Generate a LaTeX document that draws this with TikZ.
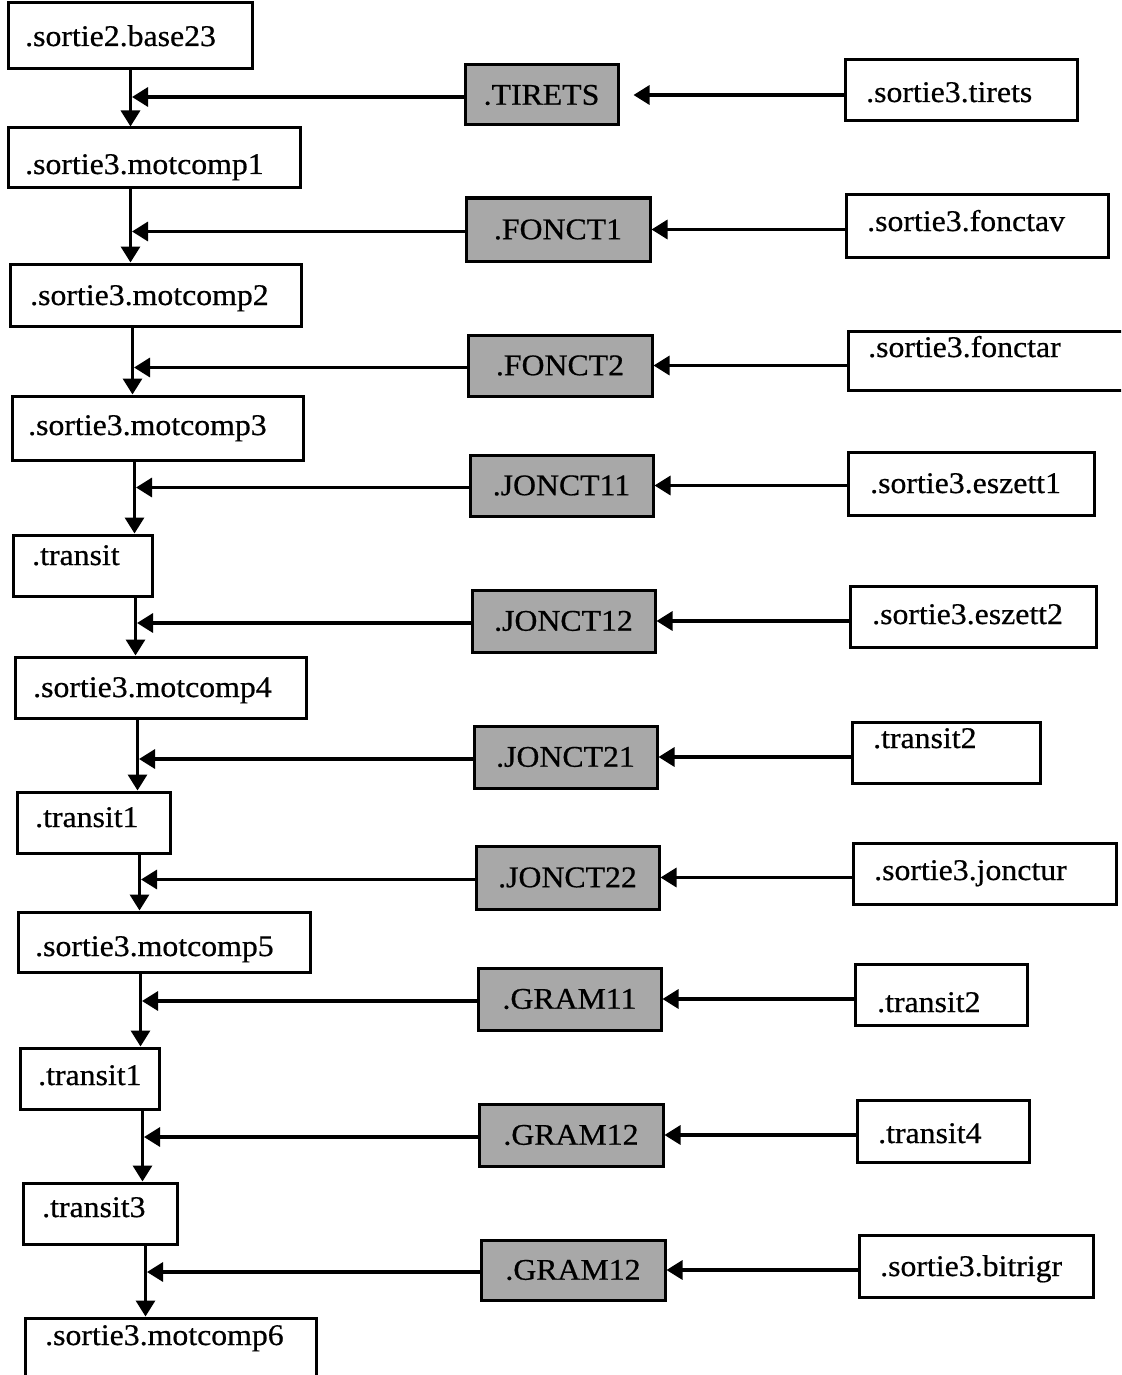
\documentclass[tikz,border=0pt]{standalone}
\usepackage{fontspec}
\setmainfont{Liberation Serif}[FakeStretch=1.06, FakeBold=0.6]
\usetikzlibrary{arrows.meta,calc}

% white box with left-aligned label: name, x1, y1, x2, y2, label x, label baseline, text
\newcommand\lbox[8]{%
  \node[frame, minimum width={(#4-#2)*1pt}, minimum height={(#5-#3)*1pt}]
    (#1) at ({(#2+#4)/2},{(#3+#5)/2}) {};
  \node[lab] (#1-txt) at (#6,#7) {#8};
}
% shaded box with centred label: name, x1, y1, x2, y2, text
\newcommand\gbox[6]{%
  \node[frame, fill=black!34, minimum width={(#4-#2)*1pt}, minimum height={(#5-#3)*1pt}]
    (#1) at ({(#2+#4)/2},{(#3+#5)/2}) {#6};
}

\begin{document}
\begin{tikzpicture}[x=1pt, y=-1pt,
  font=\fontsize{30}{34}\selectfont,
  frame/.style={draw, line width=3pt, rectangle, inner sep=0pt},
  lab/.style={anchor=base west, inner sep=0pt},
  arr/.style={line width=3.2pt, -{Triangle[length=16pt, width=19pt]}}]
\useasboundingbox (0,0) rectangle (1121,1375);
\clip (0,0) rectangle (1121,1375);

% main chain on the left
\lbox{L1}{8}{3}{252}{69}{25}{46}{.sortie2.base23}
\lbox{L2}{8}{128}{300}{188}{25}{174}{.sortie3.motcomp1}
\lbox{L3}{10}{264}{301}{326}{30}{305}{.sortie3.motcomp2}
\lbox{L4}{12}{396}{303}{460}{28}{435}{.sortie3.motcomp3}
\lbox{L5}{13}{535}{152}{596}{32}{565}{.transit}
\lbox{L6}{15}{657}{306}{718}{33}{697}{.sortie3.motcomp4}
\lbox{L7}{17}{792}{170}{853}{35}{827}{.transit1}
\lbox{L8}{18}{912}{310}{972}{35}{956}{.sortie3.motcomp5}
\lbox{L9}{20}{1048}{159}{1109}{38}{1085}{.transit1}
\lbox{L10}{23}{1183}{177}{1244}{42}{1217}{.transit3}
\lbox{L11}{25}{1318}{316}{1395}{45}{1345}{.sortie3.motcomp6}

% shaded boxes in the middle
\gbox{G1}{465}{65}{618}{125}{.TIRETS}
\gbox{G2}{466}{198}{650}{261}{.FONCT1}
\gbox{G3}{468}{335}{652}{396}{.FONCT2}
\gbox{G4}{470}{455}{653}{516}{.JONCT11}
\gbox{G5}{472}{590}{655}{652}{.JONCT12}
\gbox{G6}{474}{726}{657}{788}{.JONCT21}
\gbox{G7}{476}{846}{659}{909}{.JONCT22}
\gbox{G8}{478}{968}{661}{1030}{.GRAM11}
\gbox{G9}{479}{1104}{663}{1166}{.GRAM12}
\gbox{G10}{481}{1240}{665}{1300}{.GRAM12}

% sources on the right
\lbox{R1}{845}{60}{1077}{121}{866}{102}{.sortie3.tirets}
\lbox{R2}{846}{195}{1108}{257}{867}{231}{.sortie3.fonctav}
\lbox{R3}{848}{331}{1140}{390}{868}{357}{.sortie3.fonctar}
\lbox{R4}{848}{452}{1094}{515}{870}{493}{.sortie3.eszett1}
\lbox{R5}{850}{586}{1096}{647}{872}{624}{.sortie3.eszett2}
\lbox{R6}{852}{722}{1040}{783}{873}{748}{.transit2}
\lbox{R7}{853}{843}{1116}{904}{874}{880}{.sortie3.jonctur}
\lbox{R8}{855}{964}{1027}{1025}{877}{1012}{.transit2}
\lbox{R9}{857}{1100}{1029}{1162}{878}{1143}{.transit4}
\lbox{R10}{859}{1235}{1093}{1297}{880}{1276}{.sortie3.bitrigr}

% vertical links down the chain, each fed from the side
\foreach \a/\b/\g in {L1/L2/G1, L2/L3/G2, L3/L4/G3, L4/L5/G4, L5/L6/G5,
                      L6/L7/G6, L7/L8/G7, L8/L9/G8, L9/L10/G9, L10/L11/G10} {
  \coordinate (v\a) at ($(\a.south west)+(124,0)$);
  \draw[arr] (v\a) -- (v\a |- \b.north);
  \coordinate (j\a) at ($(v\a |- \g.west)+(1.5,2)$);
  \draw[arr] ($(\g.west)+(0,2)$) -- (j\a);
}

% side inputs into the shaded boxes
\draw[arr, shorten >=14pt] (R1.west |- G1.east) -- (G1.east);
\foreach \g/\r in {G2/R2, G3/R3, G4/R4, G5/R5, G6/R6, G7/R7, G8/R8, G9/R9, G10/R10}
  \draw[arr] (\r.west |- \g.east) -- (\g.east);
\end{tikzpicture}
\end{document}
